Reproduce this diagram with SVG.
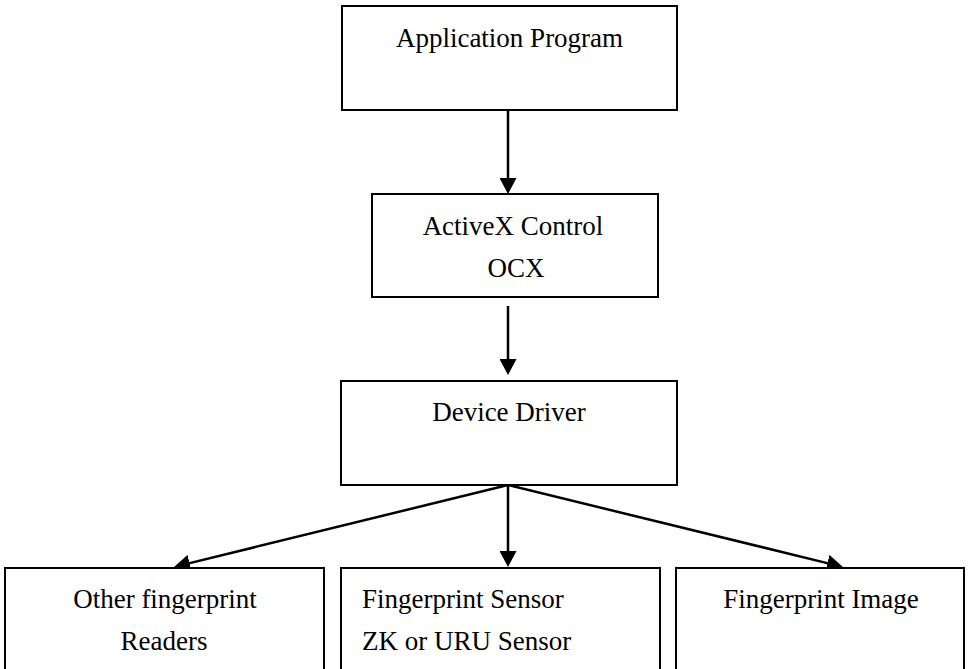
<svg xmlns="http://www.w3.org/2000/svg" width="968" height="669" viewBox="0 0 968 669">
<style>
.box{fill:#fff;stroke:#000;stroke-width:2}
.lbl{font-family:"Liberation Serif","Times New Roman",serif;font-size:27px;fill:#000}
.c{text-anchor:middle}
.arr{stroke:#000;stroke-width:2.5;fill:none;marker-end:url(#ah)}
</style>
<defs>
<marker id="ah" markerUnits="userSpaceOnUse" markerWidth="16" markerHeight="17" refX="4" refY="8.5" orient="auto" viewBox="0 0 16 17">
<path d="M0,0 L16,8.5 L0,17 z" fill="#000"/>
</marker>
</defs>
<rect width="968" height="669" fill="#fff"/>
<g id="connectors">
<line class="arr" x1="508" y1="110" x2="508" y2="182"/>
<line class="arr" x1="508" y1="306" x2="508" y2="363"/>
<line class="arr" x1="508" y1="485" x2="508" y2="555"/>
<line class="arr" x1="508" y1="485" x2="185.7" y2="564.1"/>
<line class="arr" x1="508" y1="485" x2="831.3" y2="564.1"/>
</g>
<g id="app">
<rect class="box" x="342" y="6" width="335" height="104"/>
<text class="lbl c" x="509.5" y="47">Application Program</text>
</g>
<g id="activex">
<rect class="box" x="372" y="194" width="286" height="103"/>
<text class="lbl c" x="513" y="235">ActiveX Control</text>
<text class="lbl c" x="516" y="277">OCX</text>
</g>
<g id="driver">
<rect class="box" x="341" y="381" width="336" height="104"/>
<text class="lbl c" x="509" y="421">Device Driver</text>
</g>
<g id="other">
<rect class="box" x="5" y="568" width="319" height="110"/>
<text class="lbl c" x="165" y="608">Other fingerprint</text>
<text class="lbl c" x="164" y="650">Readers</text>
</g>
<g id="sensor">
<rect class="box" x="341" y="568" width="319" height="110"/>
<text class="lbl" x="362" y="608">Fingerprint Sensor</text>
<text class="lbl" x="362" y="650">ZK or URU Sensor</text>
</g>
<g id="image">
<rect class="box" x="676" y="568" width="288" height="110"/>
<text class="lbl c" x="821" y="608">Fingerprint Image</text>
</g>
</svg>
